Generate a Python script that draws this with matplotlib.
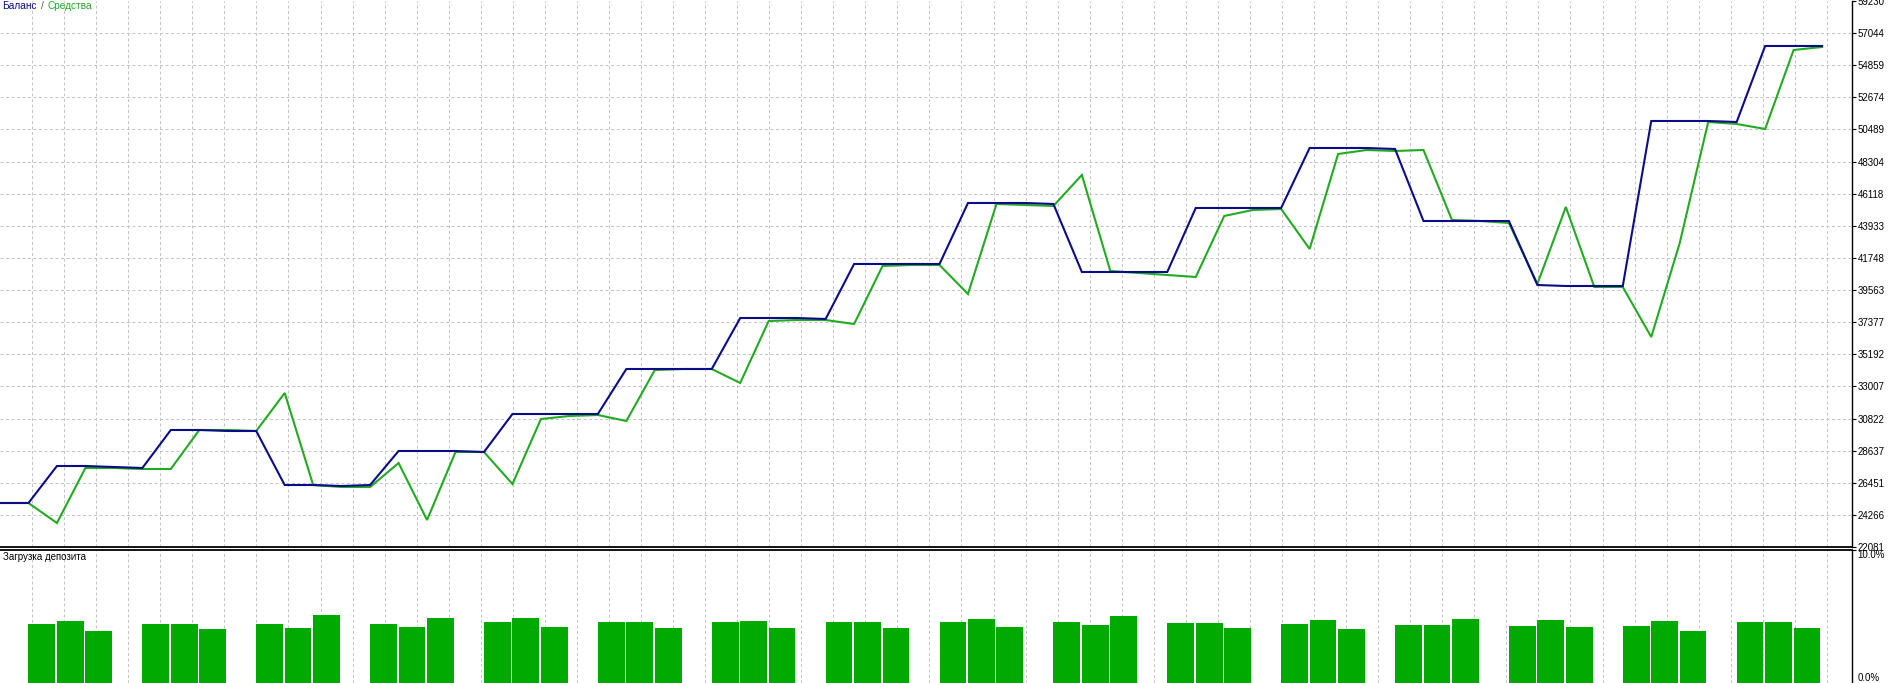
import numpy as np
import matplotlib
matplotlib.use("Agg")
import matplotlib.pyplot as plt

plt.rcParams['font.family'] = ['Liberation Sans', 'DejaVu Sans']

# balance / equity per trade step (65 points)
balance = [25075, 25075, 27592, 27592, 27524, 27456, 30042, 30042, 29974, 29974,
           26299, 26299, 26231, 26299, 28613, 28613, 28613, 28545, 31130, 31130,
           31130, 31130, 34192, 34192, 34192, 34192, 37662, 37662, 37662, 37594,
           41337, 41337, 41337, 41337, 45487, 45487, 45487, 45419, 40792, 40792,
           40792, 40792, 45147, 45147, 45147, 45147, 49229, 49229, 49229, 49161,
           44262, 44262, 44262, 44262, 39907, 39839, 39839, 39839, 51066, 51066,
           51066, 50998, 56169, 56169, 56169]
equity = [25075, 25075, 23714, 27456, 27456, 27388, 27388, 30042, 30042, 29974,
          32559, 26299, 26163, 26163, 27796, 23918, 28545, 28545, 26368, 30790,
          30994, 31062, 30654, 34124, 34192, 34192, 33240, 37458, 37526, 37526,
          37253, 41200, 41268, 41268, 39295, 45419, 45351, 45283, 47392, 40860,
          40724, 40588, 40452, 44602, 45010, 45078, 42357, 48821, 49093, 49025,
          49093, 44330, 44262, 44126, 39975, 45215, 39771, 39771, 36369, 42765,
          50998, 50862, 50522, 55897, 56101]

# deposit load, % (16 groups of 3 trades)
load = [4.39, 4.61, 3.93, 4.39, 4.39, 4.01, 4.44, 4.09, 5.06, 4.39, 4.16, 4.84,
        4.54, 4.84, 4.16, 4.54, 4.54, 4.09, 4.54, 4.61, 4.09, 4.54, 4.54, 4.09,
        4.54, 4.76, 4.16, 4.54, 4.31, 4.99, 4.46, 4.46, 4.09, 4.39, 4.69, 4.01,
        4.31, 4.31, 4.76, 4.24, 4.69, 4.16, 4.24, 4.61, 3.93, 4.54, 4.54, 4.09]

ytick_labels = [22081, 24266, 26451, 28637, 30822, 33007, 35192, 37377, 39563,
                41748, 43933, 46118, 48304, 50489, 52674, 54859, 57044, 59230]

W, H = 1897, 683
step_px = 28.47      # width of one trade step in pixels
grid_px = 32.05      # vertical grid spacing in pixels
axis_px = 1852       # right price axis position

BLUE = '#0c0c86'
GREEN = '#22aa22'
BAR = '#00aa00'
GRID = '#c4c4c4'

fig = plt.figure(figsize=(W / 100, H / 100), dpi=100)
ax = fig.add_axes([0, (H - 547) / H, axis_px / W, 546 / H])
ax2 = fig.add_axes([0, 0, axis_px / W, 133.5 / H])

xmax = axis_px / step_px
x = np.arange(len(balance))
vgrid = np.arange(1, 60) * grid_px / step_px
vgrid = vgrid[vgrid < xmax]

for a in (ax, ax2):
    a.set_xlim(0, xmax)
    a.set_xticks([])
    for g in vgrid:
        a.axvline(g, color=GRID, lw=0.72, ls=(0, (3, 2.5)), zorder=0)
    a.spines['left'].set_visible(False)
    a.spines['right'].set_linewidth(1.0)
    a.yaxis.tick_right()
    a.tick_params(axis='y', direction='out', length=3, width=0.8, pad=1,
                  labelsize=7, colors='black')

# main panel
ax.set_ylim(ytick_labels[0], ytick_labels[-1])
ax.set_yticks(ytick_labels)
ax.set_yticklabels([str(v) for v in ytick_labels])
for v in ytick_labels[1:-1]:
    ax.axhline(v, color=GRID, lw=0.72, ls=(0, (3, 2.5)), zorder=0)
ax.spines['top'].set_visible(False)
ax.spines['bottom'].set_linewidth(1.3)
ax.plot(x, equity, color=GREEN, lw=1.5, zorder=3, solid_joinstyle='miter')
ax.plot(x, balance, color=BLUE, lw=1.5, zorder=4, solid_joinstyle='miter')

# deposit load panel
slots = []
for g in range(len(load) // 3):
    slots += [4 * g + 1, 4 * g + 2, 4 * g + 3]
ax2.bar(np.array(slots) + 0.47, load, width=0.94, color=BAR, zorder=2)
ax2.set_ylim(0, 10)
ax2.set_yticks([0, 10])
ax2.set_yticklabels(['0.0%', '10.0%'])
ax2.get_yticklabels()[1].set_verticalalignment('top')
ax2.get_yticklabels()[0].set_verticalalignment('bottom')
ax2.spines['top'].set_linewidth(1.3)
ax2.spines['bottom'].set_visible(False)
ax2.text(3 / axis_px, 1 - 8 / 133.5, 'Загрузка депозита', transform=ax2.transAxes,
         fontsize=7, va='center', ha='left', color='black')

# legend text
fig.text(2 / W, 1 - 6 / H, 'Баланс', color=BLUE, fontsize=7.3, va='center')
fig.text(41 / W, 1 - 6 / H, '/', color='#555555', fontsize=7.3, va='center')
fig.text(47 / W, 1 - 6 / H, 'Средства', color=GREEN, fontsize=7.3, va='center')

fig.savefig('out.png', dpi=100, facecolor='white')
